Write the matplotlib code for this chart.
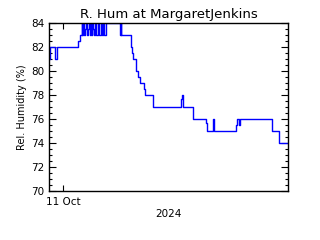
import numpy as np
import matplotlib
matplotlib.use("Agg")
import matplotlib.pyplot as plt
from matplotlib.ticker import MultipleLocator

# hours relative to 00:00, 11 Oct 2024, and relative humidity (%) after each change
hours = [-1.41, -1.36, -1.26, -0.80, -0.60, 1.51, 1.71,
         1.88, 1.94, 2.01, 2.11, 2.21, 2.31, 2.41, 2.51, 2.61, 2.68,
         2.81, 2.88, 2.96, 3.04, 3.11, 3.26, 3.34, 3.51, 3.65,
         3.82, 3.89, 4.02, 4.15, 4.32, 5.72, 5.79, 5.85,
         6.78, 6.96, 7.06, 7.33, 7.56, 7.73, 8.13, 8.23, 9.07,
         11.88, 11.98, 12.08, 13.10, 14.36, 14.49, 15.06, 15.19,
         17.37, 17.50, 17.67, 17.77, 20.96, 21.69, 22.59]
rh = [82, 81, 82, 81, 82, 82.5, 83,
      84, 83, 84, 83, 83.5, 84, 83, 83.5, 84, 83,
      84, 83, 84, 83.5, 83, 84, 83, 84, 83,
      84, 83, 84, 83, 84, 83, 84, 83,
      82, 81.5, 81, 80, 79.5, 79, 78.5, 78, 77,
      77.7, 78, 77, 76, 75.7, 75, 76, 75,
      75.5, 76, 75.5, 76, 75, 74, 74]

title = "R. Hum at MargaretJenkins"
ylabel = "Rel. Humidity (%)"
tick_hours = [0]
tick_labels = ["11 Oct"]
year_label = "2024"

fig = plt.figure(figsize=(3.2, 2.4), dpi=100)
ax = fig.add_axes([0.153, 0.204, 0.747, 0.699])

ax.plot(hours, rh, drawstyle="steps-post", color="#0000ff", lw=1.0)

ax.set_xlim(hours[0], hours[-1])
ax.set_ylim(70, 84)
ax.yaxis.set_major_locator(MultipleLocator(2))
ax.yaxis.set_minor_locator(MultipleLocator(0.5))
ax.set_xticks(tick_hours)
ax.set_xticklabels(tick_labels)

ax.tick_params(axis="both", which="both", direction="in", top=True, right=True,
               colors="black", labelsize=7.5, width=0.8)
ax.tick_params(axis="y", which="major", length=5)
ax.tick_params(axis="y", which="minor", length=2.5)
ax.tick_params(axis="x", which="major", length=4, pad=4)
for s in ax.spines.values():
    s.set_linewidth(1.0)

ax.set_title(title, fontsize=9.5, pad=4)
ax.set_ylabel(ylabel, fontsize=7, labelpad=3)
ax.set_xlabel(year_label, fontsize=7.5, labelpad=2)

fig.savefig("out.png", dpi=100)
